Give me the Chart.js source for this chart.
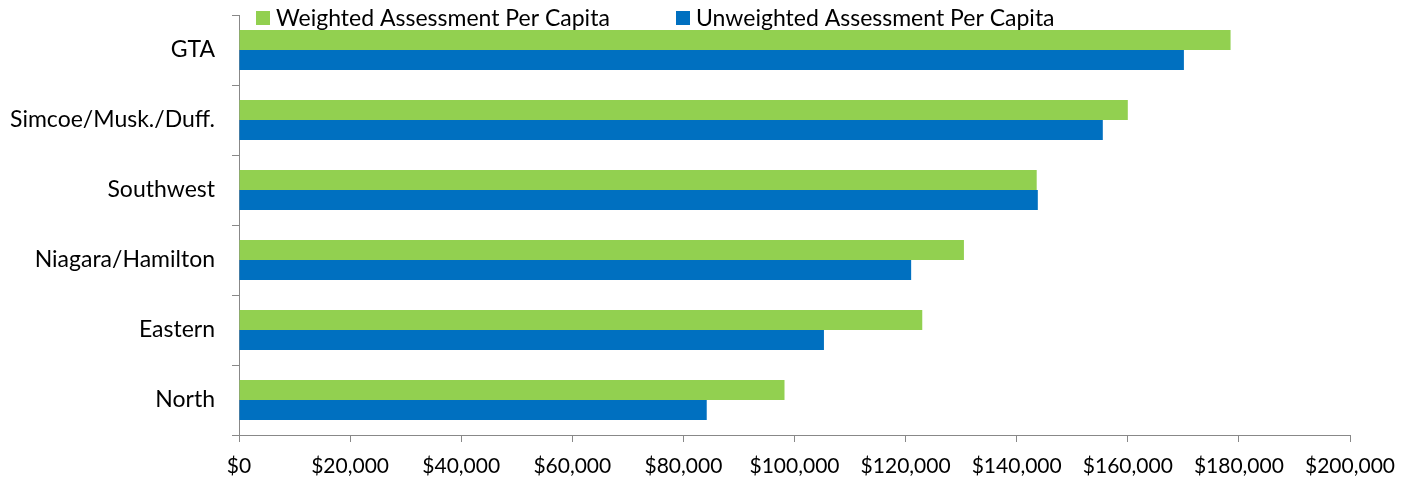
<!DOCTYPE html>
<html>
<head>
<meta charset="utf-8">
<script src="https://cdn.jsdelivr.net/npm/chart.js@4/dist/chart.umd.min.js"></script>
<style>
  html, body { margin: 0; padding: 0; background: #fff; }
  #wrap { width: 1420px; height: 487px; }
</style>
</head>
<body>
<div id="wrap"><canvas id="grafico"></canvas></div>
<script>
// datos
var regiones = ['GTA', 'Simcoe/Musk./Duff.', 'Southwest', 'Niagara/Hamilton', 'Eastern', 'North'];
var ponderado = [178500, 160000, 143600, 130500, 123000, 98200];
var sinPonderar = [170100, 155500, 143800, 121000, 105300, 84200];
var etiquetasSeries = ['Weighted Assessment Per Capita', 'Unweighted Assessment Per Capita'];
var colores = ['#92D050', '#0070C0'];

var fuente = 'Lato, "Open Sans", sans-serif';
var gris = '#888888';

function formatearMoneda(v) {
    return '$' + Number(v).toLocaleString('en-US');
}

// leyenda dibujada a mano para ubicarla como en el original
var leyendaPlugin = {
    id: 'leyendaManual',
    afterDraw: function(chart) {
        var ctx = chart.ctx;
        var posiciones = [256, 676];
        var y = 18;
        ctx.save();
        ctx.font = '23px ' + fuente;
        ctx.textBaseline = 'middle';
        for (var i = 0; i < chart.data.datasets.length; i++) {
            var ds = chart.data.datasets[i];
            ctx.fillStyle = ds.backgroundColor;
            ctx.fillRect(posiciones[i], y - 7, 14, 14);
            ctx.fillStyle = '#000';
            ctx.fillText(ds.label, posiciones[i] + 20, y + 1);
        }
        ctx.restore();
    }
};

new Chart(document.getElementById('grafico'), {
    type: 'bar',
    data: {
        labels: regiones,
        datasets: [
            { label: etiquetasSeries[0], data: ponderado, backgroundColor: colores[0] },
            { label: etiquetasSeries[1], data: sinPonderar, backgroundColor: colores[1] }
        ]
    },
    options: {
        indexAxis: 'y',
        responsive: true,
        maintainAspectRatio: false,
        animation: false,
        categoryPercentage: 0.572,
        barPercentage: 1,
        layout: { padding: { top: 15, right: 70, bottom: 0, left: 0 } },
        plugins: {
            legend: { display: false },
            tooltip: { enabled: false }
        },
        scales: {
            x: {
                min: 0,
                max: 200000,
                ticks: {
                    stepSize: 20000,
                    color: '#000',
                    padding: 12,
                    maxRotation: 0,
                    font: { family: fuente, size: 21 },
                    callback: function(value) { return formatearMoneda(value); }
                },
                grid: { drawOnChartArea: false, tickLength: 7, color: gris },
                border: { color: gris },
                afterFit: function(scale) {
                    scale.height = 52;
                    scale.paddingLeft = 0;
                    scale.paddingRight = 0;
                }
            },
            y: {
                ticks: {
                    color: '#000',
                    padding: 17,
                    font: { family: fuente, size: 23 }
                },
                grid: { drawOnChartArea: false, tickLength: 7, color: gris, offset: true },
                border: { color: gris },
                afterFit: function(scale) {
                    scale.width = 239;
                    scale.paddingTop = 0;
                    scale.paddingBottom = 0;
                }
            }
        }
    },
    plugins: [leyendaPlugin]
});
</script>
</body>
</html>
